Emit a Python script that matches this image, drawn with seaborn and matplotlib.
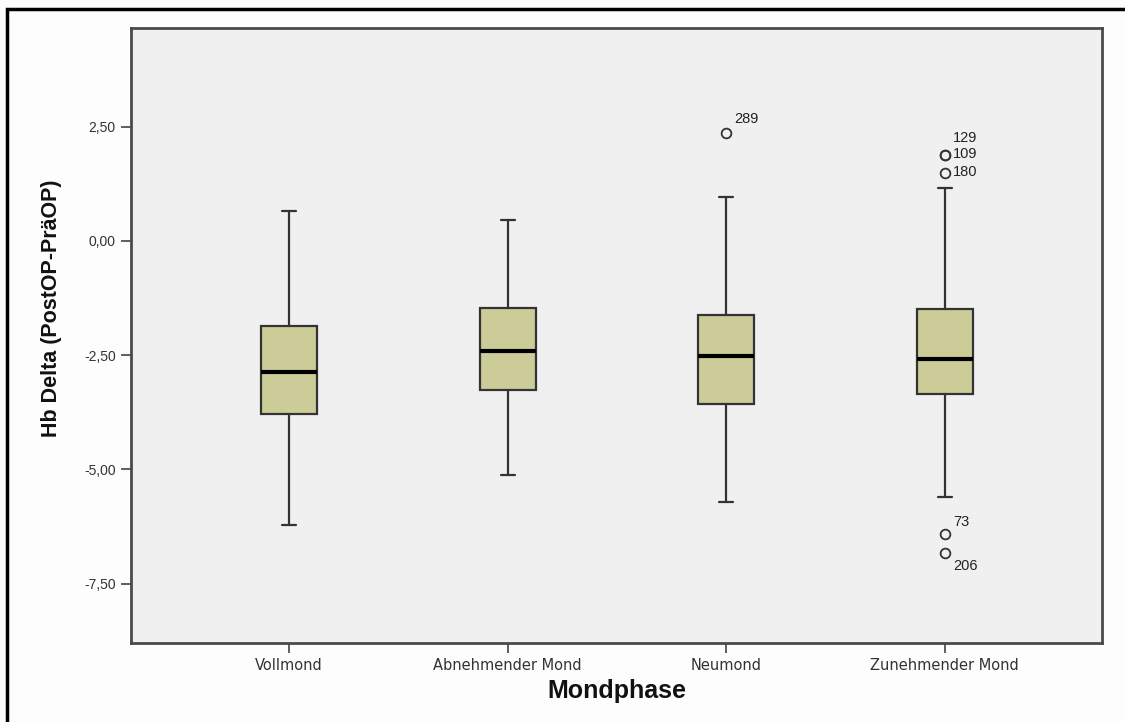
import matplotlib
matplotlib.use("Agg")
import matplotlib.pyplot as plt
from matplotlib.patches import Rectangle
import seaborn as sns

# Lunar phases and the five-number summary of Hb change per phase
phases = ["Vollmond", "Abnehmender Mond", "Neumond", "Zunehmender Mond"]
whisker_low = [-6.22, -5.13, -5.72, -5.60]
q1 = [-3.79, -3.27, -3.56, -3.35]
median = [-2.86, -2.40, -2.52, -2.59]
q3 = [-1.86, -1.47, -1.62, -1.48]
whisker_high = [0.65, 0.46, 0.97, 1.16]

# Outlying cases: (phase index, value, case number)
outlier_phase = [2, 3, 3, 3, 3, 3]
outlier_value = [2.37, 1.88, 1.87, 1.48, -6.42, -6.83]
outlier_case = ["289", "129", "109", "180", "73", "206"]

y_ticks = [2.5, 0.0, -2.5, -5.0, -7.5]
y_tick_labels = ["2,50", "0,00", "-2,50", "-5,00", "-7,50"]

sns.set_theme(style="white")
plt.rcParams["font.family"] = ["Liberation Sans", "DejaVu Sans"]

fig = plt.figure(figsize=(11.25, 7.22), dpi=100)
fig.patch.set_facecolor("#fdfdfd")
ax = fig.add_axes([0.1164, 0.1094, 0.8632, 0.8518])
ax.set_facecolor("#f0f0f0")

stats = []
for i, name in enumerate(phases):
    fl = [v for p, v in zip(outlier_phase, outlier_value) if p == i]
    stats.append(dict(label=name, whislo=whisker_low[i], q1=q1[i], med=median[i],
                      q3=q3[i], whishi=whisker_high[i], fliers=fl))

ax.bxp(stats, positions=range(len(phases)), widths=0.256, capwidths=0.064,
       patch_artist=True, showfliers=True,
       boxprops=dict(facecolor="#cccc99", edgecolor="#333333", linewidth=1.6),
       medianprops=dict(color="black", linewidth=3),
       whiskerprops=dict(color="#333333", linewidth=1.6),
       capprops=dict(color="#333333", linewidth=1.6),
       flierprops=dict(marker="o", markersize=7, markerfacecolor="none",
                       markeredgecolor="#333333", markeredgewidth=1.3))

# Case numbers next to outlying points
label_offsets = {"289": (6, 10), "129": (6, 12), "109": (6, 1), "180": (6, 1),
                 "73": (6, 9), "206": (6, -9)}
for p, v, c in zip(outlier_phase, outlier_value, outlier_case):
    dx, dy = label_offsets[c]
    ax.annotate(c, (p, v), xytext=(dx, dy), textcoords="offset points",
                ha="left", va="center", fontsize=10.5, color="#222222")

ax.set_xlim(-0.723, 3.72)
ax.set_ylim(-8.80, 4.66)
ax.set_yticks(y_ticks)
ax.set_yticklabels(y_tick_labels)
ax.set_xticks(range(len(phases)))
ax.set_xticklabels(phases, family=["DejaVu Sans"], fontsize=10.5)

ax.tick_params(axis="both", which="both", direction="out", length=7, width=1.2,
               color="#444444", labelcolor="#333333", labelsize=10,
               left=True, bottom=True, pad=4)
ax.tick_params(axis="x", labelsize=10.5)
for side in ["top", "bottom", "left", "right"]:
    ax.spines[side].set_visible(True)
    ax.spines[side].set_color("#4a4a4a")
    ax.spines[side].set_linewidth(2)

ax.set_ylabel("Hb Delta (PostOP-PräOP)", fontsize=15.5, fontweight="bold",
              color="#111111")
ax.yaxis.set_label_coords(-0.071, 0.545)
ax.set_xlabel("Mondphase", fontsize=18, fontweight="bold", color="#111111",
              labelpad=4)

# Outer black frame around the whole chart
fig.patches.append(Rectangle((0.0062, -0.02), 1.1, 0.9875 + 0.02,
                             transform=fig.transFigure, fill=False,
                             edgecolor="black", linewidth=2.5))

fig.savefig("out.png", dpi=100)
